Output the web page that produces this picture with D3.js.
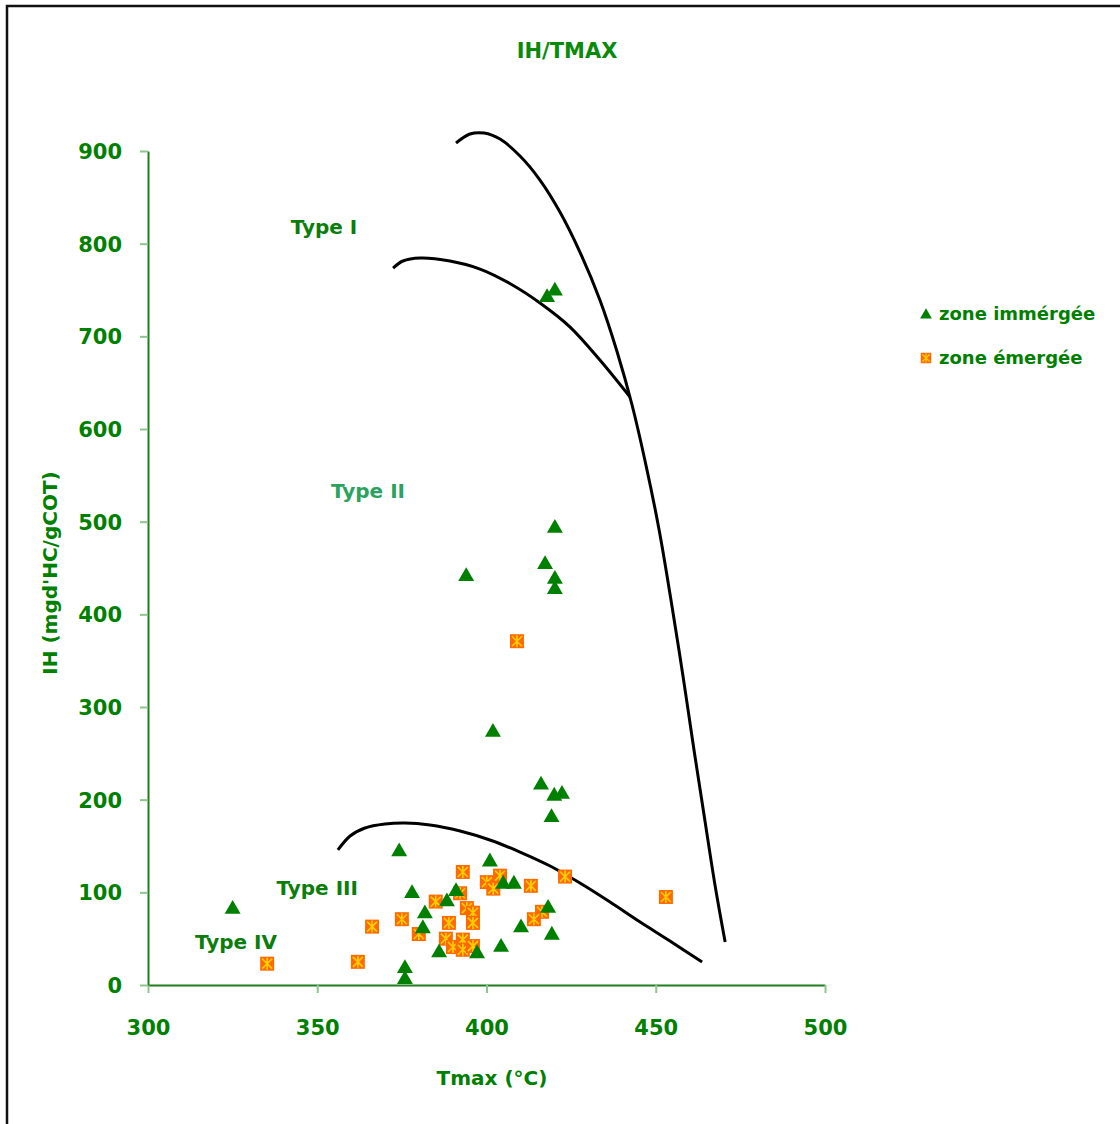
<!DOCTYPE html>
<html>
<head>
<meta charset="utf-8">
<script src="https://cdn.jsdelivr.net/npm/d3@7"></script>
<style>
  body { margin: 0; background: #fff; }
  text { font-family: "Comic Sans MS", "DejaVu Sans", sans-serif; font-weight: bold; }
</style>
</head>
<body>
<div id="chart-area"></div>
<script>
const W = 1120, H = 1124

// data
const xTicks = [300, 350, 400, 450, 500]
const yTicks = [0, 100, 200, 300, 400, 500, 600, 700, 800, 900]

// zone immergée (triangles): [Tmax, IH]
const immergee = [
  [325, 83], [374.2, 145], [375.9, 19], [375.9, 7], [378, 100], [381.8, 78],
  [381.2, 62], [386, 36], [388.3, 91], [391, 102], [394, 442], [397.2, 35],
  [401, 134], [401.9, 274], [404.3, 42], [404.9, 110], [408.1, 110], [410.2, 63],
  [416.1, 217], [417.3, 455], [417.9, 743], [420.2, 750], [420.2, 494], [420.2, 439],
  [420.2, 428], [418.2, 84], [419.3, 55], [419.2, 182], [420, 205], [422.3, 207]
]

// zone émergée (squares): [Tmax, IH]
const emergee = [
  [335.2, 23], [362, 25], [366.2, 63], [375, 71], [380, 55], [385, 90],
  [388.9, 67], [388, 50], [392.2, 99], [393, 122], [394.2, 83], [396, 78],
  [396, 67], [390.1, 41], [393, 49], [393, 38], [396, 42], [400.1, 111],
  [402, 104], [404, 118], [413.1, 107], [416.4, 79], [414, 71], [423.2, 117],
  [409, 371], [453, 95]
]

// boundary curves: [Tmax, IH]
const curveTypeI = [
  [372.4, 773.7], [375.3, 781.3], [380.4, 784.5], [389.2, 781.3], [398.1, 772.6],
  [406.9, 757.0], [415.8, 736.0], [424.7, 710.0], [433.5, 674.4], [442.4, 634.5]
]
const curveTypeII = [
  [391.0, 908.6], [395.1, 918.3], [399.3, 919.4], [404.0, 912.9], [409.9, 894.6],
  [415.8, 868.7], [421.7, 834.2], [427.6, 791.0], [433.5, 739.2], [438.6, 683.1],
  [443.0, 625.9], [447.1, 561.2], [451.0, 491.0], [454.5, 415.5], [458.0, 334.5],
  [461.3, 253.6], [464.5, 178.1], [467.5, 107.9], [470.5, 46.4]
]
const curveTypeIII = [
  [356.1, 145.7], [359.7, 160.8], [364.1, 169.4], [370.0, 173.7], [375.9, 174.8],
  [383.3, 172.7], [392.2, 166.2], [401.0, 156.5], [409.9, 143.5], [418.8, 128.4],
  [427.6, 110.1], [436.5, 89.6], [445.4, 68.0], [454.2, 47.5], [463.7, 24.8]
]

const typeLabels = [
  { text: "Type I", x: 352, y: 818, color: "#0a7d0a" },
  { text: "Type II", x: 365, y: 533, color: "#2ca25f" },
  { text: "Type III", x: 350, y: 105, color: "#0a7d0a" },
  { text: "Type IV", x: 326, y: 46, color: "#0a7d0a" }
]

const legendItems = ["zone immérgée", "zone émergée"]

const GREEN = "#008000"

const svg = d3.select("#chart-area").append("svg")
  .attr("width", W)
  .attr("height", H)

// outer frame
svg.append("rect")
  .attr("x", 7).attr("y", 6)
  .attr("width", W + 20).attr("height", H + 20)
  .attr("fill", "none")
  .attr("stroke", "#111")
  .attr("stroke-width", 2.5)

const x = d3.scaleLinear().domain([300, 500]).range([148, 825])
const y = d3.scaleLinear().domain([0, 900]).range([985, 151])

// axes
const xAxis = svg.append("g")
  .attr("transform", `translate(0, ${y(0)})`)
  .call(d3.axisBottom(x).tickValues(xTicks).tickSize(8).tickSizeOuter(0).tickPadding(27))
const yAxis = svg.append("g")
  .attr("transform", `translate(${x(300)}, 0)`)
  .call(d3.axisLeft(y).tickValues(yTicks).tickSize(8).tickSizeOuter(0).tickPadding(18))

for (const ax of [xAxis, yAxis]) {
  ax.select(".domain").attr("stroke", "#1f7f1f").attr("stroke-width", 2)
  ax.selectAll(".tick line").attr("stroke", "#8cc68c").attr("stroke-width", 2)
  ax.selectAll(".tick text")
    .attr("fill", GREEN)
    .attr("font-size", 21)
    .attr("font-family", "\"Comic Sans MS\", \"DejaVu Sans\", sans-serif")
    .attr("font-weight", "bold")
}
yAxis.selectAll(".tick text").attr("dy", "0.36em")

// curves
const line = d3.line()
  .x(d => x(d[0]))
  .y(d => y(d[1]))
  .curve(d3.curveCatmullRom.alpha(0.5))

svg.selectAll(".boundary")
  .data([curveTypeI, curveTypeII, curveTypeIII])
  .join("path")
  .attr("class", "boundary")
  .attr("d", line)
  .attr("fill", "none")
  .attr("stroke", "#000")
  .attr("stroke-width", 3)

// marker helpers
const tri = d3.symbol().type(d3.symbolTriangle).size(110)

function drawSquare(sel) {
  sel.append("rect")
    .attr("x", -7).attr("y", -7)
    .attr("width", 14).attr("height", 14)
    .attr("fill", "#ff6a00")
  sel.append("path")
    .attr("d", "M-5,-5L5,5M5,-5L-5,5M0,-6L0,6")
    .attr("stroke", "#ffd000")
    .attr("stroke-width", 1.6)
    .attr("fill", "none")
}

// émergée squares
svg.selectAll(".sq")
  .data(emergee)
  .join("g")
  .attr("class", "sq")
  .attr("transform", d => `translate(${x(d[0])}, ${y(d[1])})`)
  .call(drawSquare)

// immergée triangles
svg.selectAll(".tri")
  .data(immergee)
  .join("path")
  .attr("class", "tri")
  .attr("d", tri)
  .attr("transform", d => `translate(${x(d[0])}, ${y(d[1]) + 1})`)
  .attr("fill", GREEN)

// type labels
svg.selectAll(".type-label")
  .data(typeLabels)
  .join("text")
  .attr("class", "type-label")
  .attr("x", d => x(d.x))
  .attr("y", d => y(d.y))
  .attr("text-anchor", "middle")
  .attr("dy", "0.35em")
  .attr("font-size", 20)
  .attr("fill", d => d.color)
  .text(d => d.text)

// title
svg.append("text")
  .attr("x", 567).attr("y", 58)
  .attr("text-anchor", "middle")
  .attr("font-size", 21)
  .attr("fill", "#0a8a0a")
  .text("IH/TMAX")

// axis titles
svg.append("text")
  .attr("x", 492).attr("y", 1085)
  .attr("text-anchor", "middle")
  .attr("font-size", 20)
  .attr("fill", GREEN)
  .text("Tmax (°C)")

svg.append("text")
  .attr("transform", "translate(57, 573) rotate(-90)")
  .attr("text-anchor", "middle")
  .attr("font-size", 20)
  .attr("fill", GREEN)
  .text("IH (mgd'HC/gCOT)")

// legend
const legend = svg.append("g").attr("transform", "translate(926, 314)")
legendItems.forEach((label, i) => {
  const row = legend.append("g").attr("transform", `translate(0, ${i * 44})`)
  if (i === 0) {
    row.append("path")
      .attr("d", d3.symbol().type(d3.symbolTriangle).size(60))
      .attr("transform", "translate(0, 1)")
      .attr("fill", GREEN)
  } else {
    row.append("g").attr("transform", "scale(0.75)").call(drawSquare)
  }
  row.append("text")
    .attr("x", 13)
    .attr("dy", "0.35em")
    .attr("font-size", 18)
    .attr("fill", GREEN)
    .text(label)
})
</script>
</body>
</html>
